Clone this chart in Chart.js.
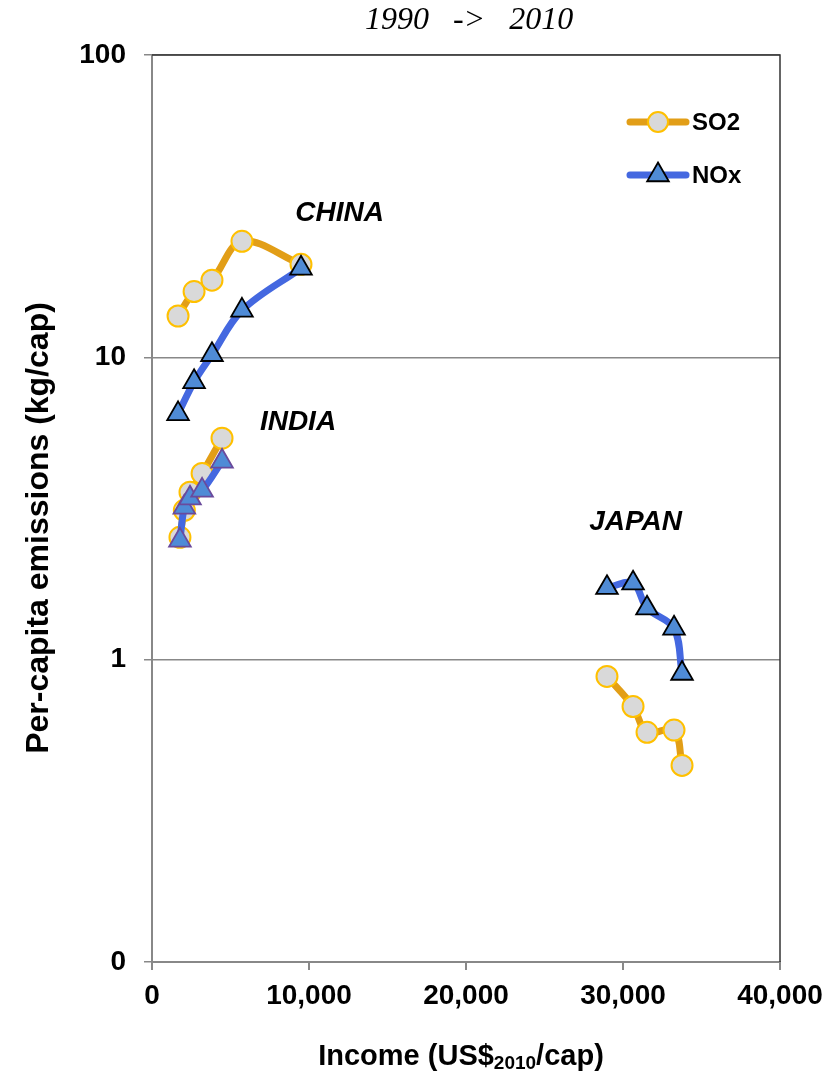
<!DOCTYPE html>
<html>
<head>
<meta charset="utf-8">
<script src="https://cdn.jsdelivr.net/npm/chart.js@4.4.1/dist/chart.umd.min.js"></script>
<style>
html, body { margin: 0; padding: 0; background: #fff; }
</style>
</head>
<body>
<canvas id="chart" width="836" height="1076"></canvas>
<script>
// income per capita (US$2010/cap), 1990 -> 2010
const chinaIncome = [1660, 2680, 3820, 5730, 9490];
const chinaSO2 = [13.7, 16.5, 18.0, 24.2, 20.3];
const chinaNOx = [6.5, 8.3, 10.2, 14.3, 19.7];

const indiaIncome = [1780, 2060, 2420, 3190, 4460];
const indiaSO2 = [2.54, 3.12, 3.58, 4.13, 5.40];
const indiaNOx = [2.48, 3.19, 3.42, 3.63, 4.53];

const japanIncome = [28980, 30640, 31530, 33250, 33760];
const japanSO2 = [0.88, 0.70, 0.575, 0.585, 0.447];
const japanNOx = [1.73, 1.79, 1.48, 1.27, 0.90];

const xTicks = [0, 10000, 20000, 30000, 40000];
const yTicks = [0.1, 1, 10, 100];
const yTickLabels = ['0', '1', '10', '100'];

const countryNames = ['CHINA', 'INDIA', 'JAPAN'];
const countryX = [11950, 9300, 30800];
const countryY = [30, 6.1, 2.85];

const seriesNames = ['SO2', 'NOx'];

const pts = (xs, ys) => xs.map((x, i) => ({ x: x, y: ys[i] }));

const so2Style = {
  borderColor: '#E29E17',
  backgroundColor: '#E29E17',
  borderWidth: 7,
  pointStyle: 'circle',
  pointRadius: 10.5,
  pointBorderWidth: 2,
  pointBorderColor: '#FFC000',
  pointBackgroundColor: '#D9D9D9',
  showLine: true,
  tension: 0.35
};
const noxStyle = {
  borderColor: '#4468E0',
  backgroundColor: '#4468E0',
  borderWidth: 7,
  pointStyle: 'triangle',
  pointRadius: 12.5,
  pointBorderWidth: 1.8,
  pointBorderColor: '#000000',
  pointBackgroundColor: '#4F8BD6',
  showLine: true,
  tension: 0.35
};

// chart.js paints dataset 0 last, so NOx goes first to sit on top
const datasets = [
  Object.assign({ label: 'China NOx', data: pts(chinaIncome, chinaNOx) }, noxStyle),
  Object.assign({ label: 'India NOx', data: pts(indiaIncome, indiaNOx) }, noxStyle, { pointBorderColor: '#6A4A9C' }),
  Object.assign({ label: 'Japan NOx', data: pts(japanIncome, japanNOx) }, noxStyle),
  Object.assign({ label: 'China SO2', data: pts(chinaIncome, chinaSO2) }, so2Style),
  Object.assign({ label: 'India SO2', data: pts(indiaIncome, indiaSO2) }, so2Style),
  Object.assign({ label: 'Japan SO2', data: pts(japanIncome, japanSO2) }, so2Style)
];

//texts, frame and legend drawn on top
const extras = {
  id: 'extras',
  afterDraw(chart) {
    const ctx = chart.ctx;
    const a = chart.chartArea;
    const xs = chart.scales.x, ys = chart.scales.y;
    ctx.save();

    // top and right frame
    ctx.strokeStyle = '#333';
    ctx.lineWidth = 1.5;
    ctx.beginPath();
    ctx.moveTo(a.left, a.top);
    ctx.lineTo(a.right, a.top);
    ctx.lineTo(a.right, a.bottom);
    ctx.stroke();

    ctx.fillStyle = '#000';
    ctx.textBaseline = 'middle';

    // top title
    ctx.font = 'italic 32px "Liberation Serif"';
    ctx.textAlign = 'center';
    ctx.fillText('1990   ->   2010', 469, 21);

    // country names
    ctx.font = 'italic bold 28px "Liberation Sans"';
    countryNames.forEach((n, i) => {
      ctx.fillText(n, xs.getPixelForValue(countryX[i]), ys.getPixelForValue(countryY[i]));
    });

    // y title
    ctx.save();
    ctx.translate(39, 528);
    ctx.rotate(-Math.PI / 2);
    ctx.font = 'bold 32px "Liberation Sans"';
    ctx.fillText('Per-capita emissions (kg/cap)', 0, 0);
    ctx.restore();

    // x title with subscript
    const big = 'bold 29px "Liberation Sans"', small = 'bold 19px "Liberation Sans"';
    const parts = [['Income (US$', big, 0], ['2010', small, 7], ['/cap)', big, 0]];
    let total = 0;
    parts.forEach(p => { ctx.font = p[1]; p.push(ctx.measureText(p[0]).width); total += p[3]; });
    let px = 461 - total / 2;
    ctx.textAlign = 'left';
    parts.forEach(p => { ctx.font = p[1]; ctx.fillText(p[0], px, 1057 + p[2]); px += p[3]; });

    // legend
    const legY = [122, 175];
    [so2Style, noxStyle].forEach((st, i) => {
      const y = legY[i];
      ctx.strokeStyle = st.borderColor;
      ctx.lineWidth = 7;
      ctx.lineCap = 'round';
      ctx.beginPath();
      ctx.moveTo(630, y);
      ctx.lineTo(686, y);
      ctx.stroke();
      ctx.fillStyle = st.pointBackgroundColor;
      ctx.strokeStyle = st.pointBorderColor;
      ctx.lineWidth = st.pointBorderWidth;
      ctx.beginPath();
      if (st.pointStyle === 'circle') {
        ctx.arc(658, y, 10, 0, Math.PI * 2);
      } else {
        const r = st.pointRadius;
        ctx.moveTo(658, y - r);
        ctx.lineTo(658 + r * Math.sin(Math.PI * 2 / 3), y - r * Math.cos(Math.PI * 2 / 3));
        ctx.lineTo(658 + r * Math.sin(Math.PI * 4 / 3), y - r * Math.cos(Math.PI * 4 / 3));
        ctx.closePath();
      }
      ctx.fill();
      ctx.stroke();
      ctx.fillStyle = '#000';
      ctx.font = 'bold 24px "Liberation Sans"';
      ctx.fillText(seriesNames[i], 692, y + 1);
    });

    ctx.restore();
  }
};

new Chart(document.getElementById('chart'), {
  type: 'scatter',
  data: { datasets: datasets },
  plugins: [extras],
  options: {
    responsive: false,
    animation: false,
    layout: { padding: { top: 55, right: 56, left: 0, bottom: 0 } },
    plugins: {
      legend: { display: false },
      tooltip: { enabled: false }
    },
    scales: {
      x: {
        type: 'linear',
        min: 0,
        max: 40000,
        afterBuildTicks: ax => { ax.ticks = xTicks.map(v => ({ value: v })); },
        afterFit: s => { s.height = 114; },
        ticks: {
          callback: v => v.toLocaleString('en-US'),
          font: { family: 'Liberation Sans', weight: 'bold', size: 28 },
          color: '#000',
          padding: 9,
          maxRotation: 0
        },
        grid: { drawOnChartArea: false, color: '#888', lineWidth: 2, tickLength: 8 },
        border: { color: '#888', width: 2 }
      },
      y: {
        type: 'logarithmic',
        min: 0.1,
        max: 100,
        afterBuildTicks: ax => { ax.ticks = yTicks.map(v => ({ value: v })); },
        afterFit: s => { s.width = 152; },
        ticks: {
          callback: v => {
            const i = yTicks.findIndex(t => Math.abs(t - v) < 1e-9);
            return i >= 0 ? yTickLabels[i] : '';
          },
          font: { family: 'Liberation Sans', weight: 'bold', size: 28 },
          color: '#000',
          padding: 18
        },
        grid: { color: '#888', lineWidth: 1.5, tickLength: 8 },
        border: { color: '#888', width: 2 }
      }
    }
  }
});
</script>
</body>
</html>
